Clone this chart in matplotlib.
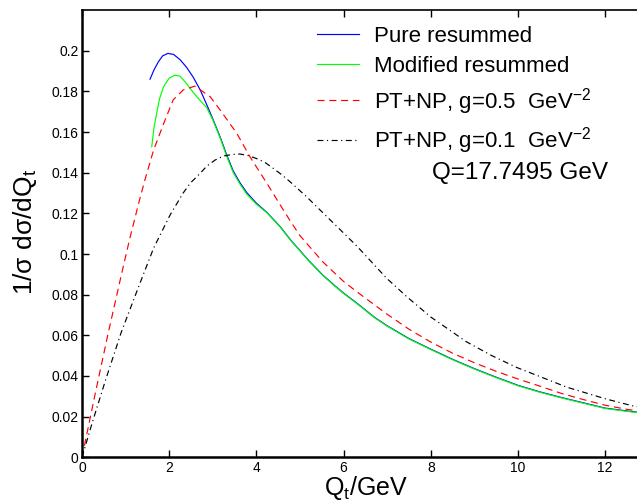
import matplotlib
matplotlib.use("Agg")
import matplotlib.pyplot as plt

plt.rcParams['font.family'] = ['Liberation Sans', 'DejaVu Sans']
plt.rcParams['mathtext.fontset'] = 'custom'
plt.rcParams['mathtext.rm'] = 'Liberation Sans'
plt.rcParams['mathtext.it'] = 'Liberation Sans:italic'
plt.rcParams['mathtext.sf'] = 'Liberation Sans'

# ---- data ----
pure_x = [1.56, 1.65, 1.75, 1.85, 1.97, 2.1, 2.25, 2.4, 2.55, 2.71, 2.86, 3.0, 3.17, 3.32,
          3.47, 3.62, 3.78, 4.0, 4.24, 4.54, 4.8, 5.0, 5.2, 5.53, 5.8, 6.0, 6.3, 6.72, 7.0,
          7.5, 8.0, 8.5, 9.0, 9.5, 10.0, 10.5, 11.0, 11.5, 12.0, 12.5, 13.0]
pure_y = [0.186, 0.1905, 0.1945, 0.1975, 0.1987, 0.1982, 0.1956, 0.1918, 0.187, 0.1808,
          0.1735, 0.1665, 0.1575, 0.1487, 0.1408, 0.1352, 0.1302, 0.1250, 0.1205, 0.1136,
          0.1065, 0.1017, 0.0968, 0.0895, 0.0844, 0.0808, 0.0759, 0.0687, 0.0647, 0.0584,
          0.0532, 0.0482, 0.0436, 0.0394, 0.0354, 0.0322, 0.0294, 0.0268, 0.0242, 0.0228,
          0.0215]

mod_x = [1.60, 1.65, 1.71, 1.78, 1.87, 2.0, 2.13, 2.25, 2.4, 2.55, 2.71, 2.86, 3.0, 3.17,
         3.32, 3.47, 3.62, 3.78, 4.0, 4.24, 4.54, 4.8, 5.0, 5.2, 5.53, 5.8, 6.0, 6.3, 6.72,
         7.0, 7.5, 8.0, 8.5, 9.0, 9.5, 10.0, 10.5, 11.0, 11.5, 12.0, 12.5, 13.0]
mod_y = [0.1528, 0.162, 0.169, 0.1765, 0.1823, 0.1865, 0.1880, 0.1875, 0.1838, 0.1795,
         0.1755, 0.1720, 0.1660, 0.1570, 0.1480, 0.1400, 0.1345, 0.1294, 0.1245, 0.1203,
         0.1134, 0.1063, 0.1015, 0.0966, 0.0893, 0.0842, 0.0806, 0.0757, 0.0685, 0.0645,
         0.0582, 0.0530, 0.0480, 0.0434, 0.0392, 0.0352, 0.0320, 0.0292, 0.0266, 0.0240,
         0.0226, 0.0213]

np5_x = [0, 0.3, 0.6, 0.9, 1.1, 1.3, 1.45, 1.64, 1.87, 2.09, 2.32, 2.59, 2.94, 3.17, 3.55,
         3.85, 4.24, 4.62, 4.77, 5.0, 5.53, 6.0, 6.3, 6.99, 7.5, 8.0, 8.5, 9.0, 9.5, 10.0,
         10.5, 11.0, 11.5, 12.0, 12.5, 13.0]
np5_y = [0.0, 0.031, 0.061, 0.0895, 0.108, 0.125, 0.137, 0.151, 0.164, 0.1758, 0.1807,
         0.1826, 0.1774, 0.1708, 0.1594, 0.1479, 0.1348, 0.1216, 0.1165, 0.1090, 0.0960,
         0.0865, 0.0815, 0.0705, 0.0630, 0.0567, 0.0512, 0.0465, 0.0423, 0.0385, 0.0350,
         0.0314, 0.0284, 0.0256, 0.0236, 0.0220]

np1_x = [0, 0.23, 0.54, 0.9, 1.3, 1.64, 2.02, 2.32, 2.48, 2.71, 2.86, 3.05, 3.24, 3.45,
         3.62, 3.8, 4.0, 4.2, 4.39, 4.58, 4.77, 5.15, 5.53, 5.92, 6.3, 6.99, 7.45, 8.0,
         8.82, 9.4, 9.97, 11.12, 12.0, 12.65, 13.0]
np1_y = [0.0, 0.0167, 0.038, 0.0615, 0.0840, 0.1028, 0.1192, 0.1300, 0.1348, 0.1397,
         0.1432, 0.1462, 0.1482, 0.1490, 0.1492, 0.1485, 0.1470, 0.1450, 0.1421, 0.1390,
         0.1356, 0.1282, 0.1202, 0.1120, 0.1040, 0.0880, 0.0790, 0.0690, 0.0568, 0.0500,
         0.0442, 0.0345, 0.0288, 0.0252, 0.0236]

labels = ["Pure resummed", "Modified resummed",
          r"PT+NP, g=0.5  GeV$^{-2}$", r"PT+NP, g=0.1  GeV$^{-2}$"]
xticks = [0, 2, 4, 6, 8, 10, 12]
yticks = [0, 0.02, 0.04, 0.06, 0.08, 0.1, 0.12, 0.14, 0.16, 0.18, 0.2]
ytick_labels = ["0", "0.02", "0.04", "0.06", "0.08", "0.1", "0.12", "0.14", "0.16", "0.18", "0.2"]

# ---- figure ----
W, H = 637, 504
fig = plt.figure(figsize=(W / 100, H / 100), dpi=100)
x0_px, x1_px = 82, 82 + 13 * 43.6
y_top_px, y_bot_px = 10.3, 457.3
ax = fig.add_axes([x0_px / W, (H - y_bot_px) / H, (x1_px - x0_px) / W, (y_bot_px - y_top_px) / H])

lw = 0.85
l1, = ax.plot(pure_x, pure_y, color='#0000ff', lw=lw)
l2, = ax.plot(mod_x, mod_y, color='#00ff00', lw=lw)
l3, = ax.plot(np5_x, np5_y, color='#ff0000', lw=lw, dashes=(6, 4))
l4, = ax.plot(np1_x, np1_y, color='black', lw=lw, dashes=(5, 3, 1, 3))

ax.set_xlim(0, 13)
ax.set_ylim(0, 0.2199)
ax.set_xticks(xticks)
ax.set_xticklabels([str(t) for t in xticks])
ax.set_yticks(yticks)
ax.set_yticklabels(ytick_labels)
ax.tick_params(direction='in', length=5, width=1, top=True, right=False,
               labelsize=10, pad=2.5)
for s in ['left', 'bottom']:
    ax.spines[s].set_linewidth(1.8)
ax.spines['top'].set_linewidth(1.2)
ax.spines['right'].set_visible(False)

fig.text(366 / W, 1 - 488 / H, r"Q$_\mathrm{t}$/GeV", fontsize=18, ha='center', va='center')
fig.text(25 / W, 1 - 232 / H, r"1/σ dσ/dQ$_\mathrm{t}$", fontsize=19, ha='center', va='center',
         rotation=90)

leg = ax.legend([l1, l2, l3, l4], labels, loc='upper left',
                bbox_to_anchor=(317 / W, 1 - 26 / H), bbox_transform=fig.transFigure,
                frameon=False, fontsize=16, handlelength=1.9, handletextpad=0.68,
                labelspacing=0.40, borderpad=0, borderaxespad=0)

fig.text(432 / W, 1 - 173 / H, "Q=17.7495 GeV", fontsize=17.5, ha='left', va='center')

fig.savefig("out.png", dpi=100)
